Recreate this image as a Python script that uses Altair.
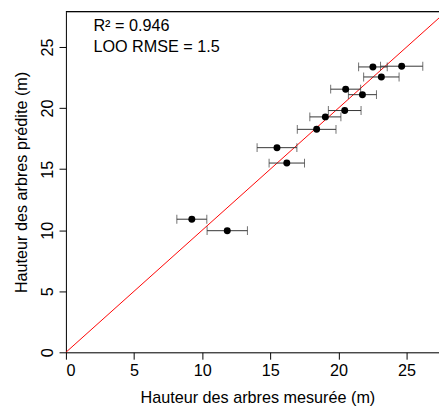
import altair as alt
import pandas as pd

measured = [22.53, 24.64, 23.15, 20.53, 21.76, 20.46, 19.04, 18.40, 15.49, 16.21, 9.24, 11.84]
predicted = [23.37, 23.43, 22.55, 21.55, 21.10, 19.80, 19.28, 18.26, 16.76, 15.50, 10.90, 9.96]
err = [1.05, 1.55, 1.30, 1.10, 1.03, 1.20, 1.14, 1.42, 1.46, 1.30, 1.10, 1.48]

df = pd.DataFrame({"x": measured, "y": predicted, "e": err})
df["lo"] = df["x"] - df["e"]
df["hi"] = df["x"] + df["e"]

line_df = pd.DataFrame({"x": [0, 30], "y": [0, 30]})

FONT = "Liberation Sans"
FS = 16.5
xs = alt.Scale(domain=[0, 27.38], nice=False, zero=False)
ys = alt.Scale(domain=[0, 27.9], nice=False, zero=False)

xaxis = alt.Axis(values=[0, 5, 10, 15, 20, 25], title="Hauteur des arbres mesurée (m)",
                 grid=False, domain=True, domainColor="black", domainWidth=1,
                 tickSize=7, tickColor="black", labelColor="black",
                 labelFont=FONT, labelFontSize=FS, labelPadding=4, titleFont=FONT,
                 titleFontSize=FS, titleFontWeight="normal", titleColor="black", titlePadding=11,
                 titleX=195, titleAlign="center")
yaxis = alt.Axis(values=[0, 5, 10, 15, 20, 25], title="Hauteur des arbres prédite (m)",
                 grid=False, domain=True, domainColor="black", domainWidth=1,
                 tickSize=7, tickColor="black", labelColor="black",
                 labelFont=FONT, labelFontSize=FS, labelPadding=4, labelAngle=270,
                 labelAlign="center", labelBaseline="bottom", titleFont=FONT,
                 titleFontSize=FS, titleFontWeight="normal", titleColor="black", titlePadding=10)

base = alt.Chart(df)

oneone = alt.Chart(line_df).mark_line(color="red", strokeWidth=1, clip=True).encode(
    x=alt.X("x:Q", scale=xs, axis=xaxis), y=alt.Y("y:Q", scale=ys, axis=yaxis))

# top edge of the plot frame (the right edge lies outside the cropped picture)
frame_top = alt.Chart(line_df).mark_rule(color="black", strokeWidth=1).encode(
    x=alt.value(0), x2=alt.value("width"), y=alt.value(0))

bars = base.mark_rule(color="#333333", strokeWidth=1).encode(
    x=alt.X("lo:Q", scale=xs), x2="hi:Q", y=alt.Y("y:Q", scale=ys))
cap_lo = base.mark_tick(orient="vertical", color="#333333", size=9, thickness=1).encode(
    x=alt.X("lo:Q", scale=xs), y=alt.Y("y:Q", scale=ys))
cap_hi = base.mark_tick(orient="vertical", color="#333333", size=9, thickness=1).encode(
    x=alt.X("hi:Q", scale=xs), y=alt.Y("y:Q", scale=ys))
pts = base.mark_circle(color="black", opacity=1, size=50).encode(
    x=alt.X("x:Q", scale=xs), y=alt.Y("y:Q", scale=ys))

ann_df = pd.DataFrame({"t": ["R² = 0.946", "LOO RMSE = 1.5"], "py": [15, 36.5]})
ann = alt.Chart(ann_df).mark_text(align="left", baseline="middle", font=FONT, fontSize=FS,
                                  color="black").encode(
    x=alt.value(28), y=alt.Y("py:Q", scale=None), text="t:N")

chart = alt.layer(oneone, frame_top, bars, cap_lo, cap_hi, pts, ann).properties(
    width=380, height=347,
    autosize=alt.AutoSizeParams(type="none"),
    padding={"left": 59, "top": 0, "right": 0, "bottom": 52},
).configure_view(stroke=None).configure(background="white")

chart.save("out.html", embed_options={"renderer": "svg", "actions": False})
